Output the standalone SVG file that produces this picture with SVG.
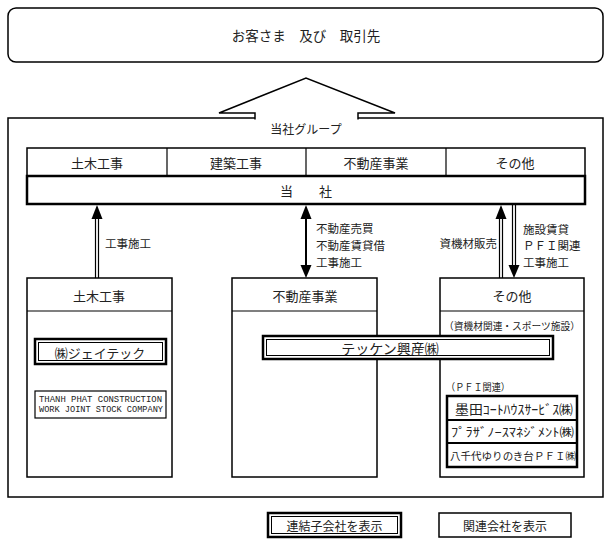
<svg xmlns="http://www.w3.org/2000/svg" width="611" height="544" viewBox="0 0 611 544">
<style>
text{font-family:"Noto Sans CJK JP","Noto Sans",sans-serif;fill:#222;dominant-baseline:central}
.c{text-anchor:middle}
.box{fill:#fff;stroke:#000;stroke-width:1.5}
.thick{fill:#fff;stroke:#000;stroke-width:2.5}
.inner{fill:none;stroke:#000;stroke-width:1}
.ln{stroke:#000;stroke-width:1.2;fill:none}
.head{fill:#000;stroke:none}
.mono{font-family:"Liberation Mono",monospace}
</style>
<rect width="611" height="544" fill="#fff"/>

<g id="customers">
<rect x="8" y="8" width="595" height="54" rx="8" class="box"/>
<text x="306" y="35" class="c" font-size="13.5">お客さま　及び　取引先</text>
</g>

<g id="group">
<rect x="8" y="118" width="595" height="379" class="box"/>
<text x="306" y="128" class="c" font-size="12">当社グループ</text>
</g>

<g id="big-arrow">
<path d="M255,119.5 V113 H219 L306,78 L395,113 H358 V119.5" fill="#fff" stroke="#000" stroke-width="1.5"/>
</g>

<g id="segments">
<rect x="27" y="148" width="558" height="28" class="box"/>
<line x1="167" y1="148" x2="167" y2="176" class="ln"/>
<line x1="306" y1="148" x2="306" y2="176" class="ln"/>
<line x1="446" y1="148" x2="446" y2="176" class="ln"/>
<text x="97" y="162" class="c" font-size="13">土木工事</text>
<text x="236" y="162" class="c" font-size="13">建築工事</text>
<text x="376" y="162" class="c" font-size="13">不動産事業</text>
<text x="515" y="162" class="c" font-size="13">その他</text>
</g>

<g id="company">
<rect x="27" y="176" width="558" height="28" class="thick"/>
<text x="306" y="190" class="c" font-size="13">当　　社</text>
</g>

<g id="connectors">
<line x1="95.5" y1="218" x2="95.5" y2="278" class="ln"/>
<line x1="98.5" y1="218" x2="98.5" y2="278" class="ln"/>
<polygon points="97,205 91.5,219 102.5,219" class="head"/>
<text x="105" y="243" font-size="11.5">工事施工</text>

<line x1="306" y1="216" x2="306" y2="268" stroke="#000" stroke-width="2"/>
<polygon points="306,205 300.5,219 311.5,219" class="head"/>
<polygon points="306,278 300.5,265 311.5,265" class="head"/>
<text x="316" y="228" font-size="11.5">不動産売買</text>
<text x="316" y="245" font-size="11.5">不動産賃貸借</text>
<text x="316" y="262" font-size="11.5">工事施工</text>

<line x1="499.5" y1="218" x2="499.5" y2="278" class="ln"/>
<line x1="502.5" y1="218" x2="502.5" y2="278" class="ln"/>
<polygon points="501,205 495.5,219 506.5,219" class="head"/>
<text x="497" y="243" font-size="11.5" text-anchor="end">資機材販売</text>

<line x1="512.5" y1="204" x2="512.5" y2="266" class="ln"/>
<line x1="515.5" y1="204" x2="515.5" y2="266" class="ln"/>
<polygon points="514,278 508.5,265 519.5,265" class="head"/>
<text x="523" y="229" font-size="11.5">施設賃貸</text>
<text x="523" y="245" font-size="11.5">ＰＦＩ関連</text>
<text x="523" y="262" font-size="11.5">工事施工</text>
</g>

<g id="civil">
<rect x="27" y="278" width="145" height="199" class="box"/>
<line x1="27" y1="311" x2="172" y2="311" class="ln"/>
<text x="99" y="295" class="c" font-size="13">土木工事</text>
</g>

<g id="realestate">
<rect x="232" y="278" width="145" height="199" class="box"/>
<line x1="232" y1="311" x2="377" y2="311" class="ln"/>
<text x="305" y="295" class="c" font-size="13">不動産事業</text>
</g>

<g id="other">
<rect x="440" y="278" width="144" height="199" class="box"/>
<line x1="440" y1="311" x2="584" y2="311" class="ln"/>
<text x="512" y="295" class="c" font-size="13">その他</text>
<text x="512" y="325" class="c" font-size="10" textLength="136" lengthAdjust="spacingAndGlyphs">（資機材関連・スポーツ施設）</text>
<text x="446" y="386" font-size="10" textLength="64" lengthAdjust="spacingAndGlyphs">（ＰＦＩ関連）</text>
</g>

<g id="jtec">
<rect x="35" y="339" width="131" height="25" class="thick"/>
<rect x="38.5" y="342.5" width="124" height="18" class="inner"/>
<text x="100" y="352" class="c" font-size="13">㈱ジェイテック</text>
</g>

<g id="thanhphat">
<rect x="35" y="391" width="131" height="27" fill="#fff" stroke="#000" stroke-width="1.2"/>
<text x="39" y="399.5" class="mono" font-size="9" textLength="123" lengthAdjust="spacingAndGlyphs">THANH PHAT CONSTRUCTION</text>
<text x="39" y="410" class="mono" font-size="9" textLength="124" lengthAdjust="spacingAndGlyphs">WORK JOINT STOCK COMPANY</text>
</g>

<g id="tekken">
<rect x="263" y="336" width="290" height="23" class="thick"/>
<rect x="266.5" y="339.5" width="283" height="16" class="inner"/>
<text x="390" y="347.5" class="c" font-size="14">テッケン興産㈱</text>
</g>

<g id="pfi">
<rect x="447" y="396" width="130" height="71" class="thick"/>
<line x1="447" y1="420" x2="577" y2="420" stroke="#000" stroke-width="2"/>
<line x1="447" y1="443" x2="577" y2="443" stroke="#000" stroke-width="2"/>
<text x="455" y="408" font-size="13" textLength="118" lengthAdjust="spacingAndGlyphs">墨田ｺｰﾄﾊｳｽｻｰﾋﾞｽ㈱</text>
<text x="451" y="431.5" font-size="12" textLength="123" lengthAdjust="spacingAndGlyphs">ﾌﾟﾗｻﾞﾉｰｽﾏﾈｼﾞﾒﾝﾄ㈱</text>
<text x="450" y="455" font-size="10.5" textLength="126" lengthAdjust="spacingAndGlyphs">八千代ゆりのき台ＰＦＩ㈱</text>
</g>

<g id="legend-consolidated">
<rect x="268" y="513" width="133" height="24" class="thick"/>
<rect x="271.5" y="516.5" width="126" height="17" class="inner"/>
<text x="334.5" y="525" class="c" font-size="12">連結子会社を表示</text>
</g>

<g id="legend-affiliate">
<rect x="439" y="513" width="132" height="24" fill="#fff" stroke="#000" stroke-width="1.5"/>
<text x="505" y="525" class="c" font-size="12">関連会社を表示</text>
</g>
</svg>
